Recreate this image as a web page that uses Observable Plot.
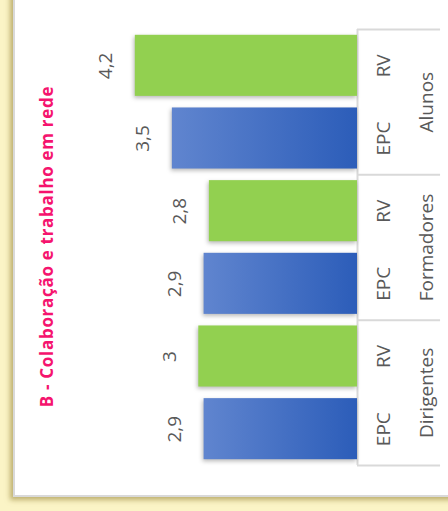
<!DOCTYPE html>
<html><head><meta charset="utf-8">
<script src="https://cdn.jsdelivr.net/npm/d3@7"></script>
<script src="https://cdn.jsdelivr.net/npm/@observablehq/plot@0.6"></script>
<style>
html,body{margin:0;padding:0;}
body{width:448px;height:511px;background:#fbf4c6;position:relative;overflow:hidden;}
#panel{position:absolute;left:13px;top:-10px;width:460px;height:507px;background:#fff;border-left:2px solid #d9d9d9;border-bottom:2px solid #d9d9d9;box-sizing:border-box;box-shadow:-3px 3px 5px rgba(140,120,40,0.55);}
#chart{position:absolute;left:0;top:0;}
g[aria-label="rect"] rect{filter:drop-shadow(-1px 2px 2px rgba(0,0,0,0.28));}
</style></head><body>
<div id="panel"></div>
<svg width="0" height="0" style="position:absolute"><defs><linearGradient id="blueGrad" x1="0" y1="0" x2="1" y2="0"><stop offset="0" stop-color="#6085cf"/><stop offset="1" stop-color="#2c5db9"/></linearGradient></defs></svg>
<div id="chart"></div>
<script>
const title = "B - Colaboração e trabalho em rede";
const groups = ["Alunos", "Formadores", "Dirigentes"];
const series = ["RV", "EPC"];
const rvValues = [4.2, 2.8, 3];
const epcValues = [3.5, 2.9, 2.9];

const rows = [];
groups.forEach((g, gi) => {
  [rvValues, epcValues].forEach((vals, si) => {
    rows.push({group: g, series: series[si], value: vals[gi], pos: gi * 2 + si});
  });
});
const fmt = v => String(v).replace(".", ",");
const edges = groups.map((g, i) => i * 2).concat([groups.length * 2]);
const font = "'Open Sans', sans-serif";
const grey = "#595959";

const chart = Plot.plot({
  width: 448,
  height: 511,
  margin: 0,
  style: {background: "transparent", fontFamily: font},
  x: {domain: [0, 5], range: [357, 92.5], axis: null},
  y: {domain: [0, 6], range: [29, 465], axis: null},
  marks: [
    Plot.ruleX([0], {y1: 0, y2: 6, stroke: "#d9d9d9", strokeWidth: 2, strokeOpacity: 1}),
    Plot.ruleY(edges, {y: d => d, x1: 0, x2: -1.57, stroke: "#d9d9d9", strokeWidth: 2, strokeOpacity: 1}),
    Plot.rectX(rows.filter(d => d.series === "RV"), {x1: 0, x2: "value", y1: "pos", y2: d => d.pos + 1, insetTop: 5.8, insetBottom: 5.8, fill: "#92d050"}),
    Plot.rectX(rows.filter(d => d.series === "EPC"), {x1: 0, x2: "value", y1: "pos", y2: d => d.pos + 1, insetTop: 5.8, insetBottom: 5.8, fill: "url(#blueGrad)"}),
    Plot.text(rows, {x: "value", y: d => d.pos + 0.5, text: d => fmt(d.value), rotate: -90, dx: -29, fill: grey, fontSize: 19, fontFamily: font}),
    Plot.text(rows, {x: 0, y: d => d.pos + 0.5, text: "series", rotate: -90, dx: 26, fill: grey, fontSize: 19, fontFamily: font}),
    Plot.text(groups, {x: 0, y: (d, i) => i * 2 + 1, text: d => d, rotate: -90, dx: 69, fill: grey, fontSize: 19, fontFamily: font}),
    Plot.text([title], {frameAnchor: "left", textAnchor: "middle", lineAnchor: "middle", text: d => d, rotate: -90, dx: 47, dy: -9.5, fill: "#f5146e", fontSize: 17, fontWeight: "bold", fontFamily: font})
  ]
});
d3.select(chart).selectAll("text").filter(function () { return this.textContent === title; }).attr("letter-spacing", "0.7");
document.getElementById("chart").appendChild(chart);
</script>
</body></html>
